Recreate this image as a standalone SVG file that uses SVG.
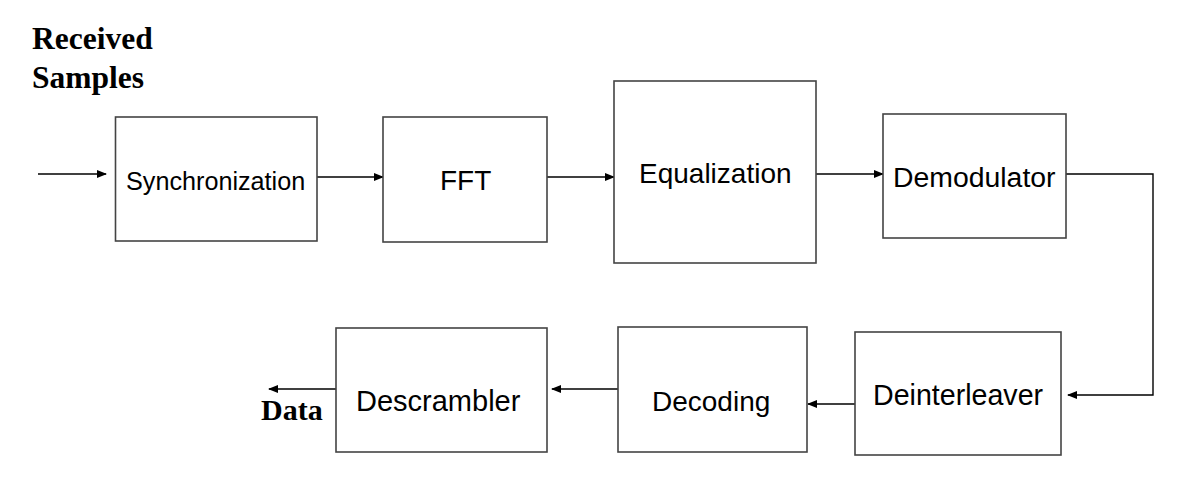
<svg xmlns="http://www.w3.org/2000/svg" width="1193" height="487" viewBox="0 0 1193 487">
<style>
.box{fill:#fff;stroke:#444;stroke-width:1.6}
.lbl{font-family:"Liberation Sans",Arial,sans-serif;font-size:28px;fill:#000}
.hdr{font-family:"Liberation Serif","Times New Roman",serif;font-weight:bold;font-size:31px;fill:#000}
.con{fill:none;stroke:#000;stroke-width:1.4}
</style>
<defs>
<marker id="ah" markerWidth="10" markerHeight="8" refX="9" refY="4" orient="auto" markerUnits="userSpaceOnUse">
<path d="M0,0 L10,4 L0,8 Z" fill="#000"/>
</marker>
</defs>
<rect width="1193" height="487" fill="#fff"/>
<g id="label-received">
<text class="hdr" x="32" y="49" style="font-size:31.5px">Received</text>
<text class="hdr" x="32" y="88" style="font-size:31.5px">Samples</text>
</g>
<g id="label-data">
<text class="hdr" x="261" y="420" style="font-size:30px">Data</text>
</g>
<g id="connectors">
<line class="con" x1="38" y1="174" x2="106" y2="174" marker-end="url(#ah)"/>
<line class="con" x1="317" y1="177" x2="383" y2="177" marker-end="url(#ah)"/>
<line class="con" x1="547" y1="177" x2="614" y2="177" marker-end="url(#ah)"/>
<line class="con" x1="816" y1="174" x2="883" y2="174" marker-end="url(#ah)"/>
<polyline class="con" points="1066,174 1153,174 1153,395 1068,395" marker-end="url(#ah)"/>
<line class="con" x1="855" y1="404" x2="808" y2="404" marker-end="url(#ah)"/>
<line class="con" x1="618" y1="389" x2="552" y2="389" marker-end="url(#ah)"/>
<line class="con" x1="336" y1="389" x2="269" y2="389" marker-end="url(#ah)"/>
</g>
<g id="sync">
<rect class="box" x="115.5" y="117" width="201.5" height="124"/>
<text class="lbl" x="126" y="190" style="font-size:25.2px">Synchronization</text>
</g>
<g id="fft">
<rect class="box" x="383" y="117" width="164" height="125"/>
<text class="lbl" x="440" y="190">FFT</text>
</g>
<g id="equalization">
<rect class="box" x="614" y="81" width="202" height="182"/>
<text class="lbl" x="639" y="183">Equalization</text>
</g>
<g id="demodulator">
<rect class="box" x="883" y="114" width="183" height="124"/>
<text class="lbl" x="893" y="187" style="font-size:28.4px">Demodulator</text>
</g>
<g id="deinterleaver">
<rect class="box" x="855" y="332" width="206" height="123"/>
<text class="lbl" x="873" y="405" style="font-size:28.6px">Deinterleaver</text>
</g>
<g id="decoding">
<rect class="box" x="618" y="327" width="189" height="125"/>
<text class="lbl" x="652" y="411">Decoding</text>
</g>
<g id="descrambler">
<rect class="box" x="336" y="328" width="211" height="124"/>
<text class="lbl" x="356" y="411" style="font-size:29px">Descrambler</text>
</g>
</svg>
